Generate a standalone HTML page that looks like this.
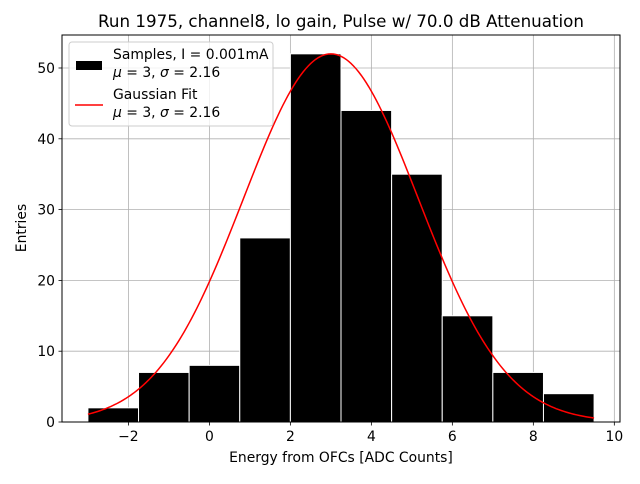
<!DOCTYPE html>
<html><head><meta charset="utf-8"><style>
body{margin:0;background:#fff;font-family:"DejaVu Sans","Liberation Sans",sans-serif;}
svg text{font-family:"DejaVu Sans","Liberation Sans",sans-serif;}
</style></head><body>
<svg id="chart" width="640" height="480" xmlns="http://www.w3.org/2000/svg">
<rect width="640" height="480" fill="#fff"/>
<g id="grid"></g>
<g id="bars"></g>
<path id="fit" fill="none" stroke="#ff0000" stroke-width="1.5"/>
<rect x="62" y="35" width="558" height="387" fill="none" stroke="#000" stroke-width="1"/>
<g id="ticks"></g>
<text x="341" y="27" text-anchor="middle" font-size="16.7">Run 1975, channel8, lo gain, Pulse w/ 70.0 dB Attenuation</text>
<text x="341" y="462" text-anchor="middle" font-size="13.9">Energy from OFCs [ADC Counts]</text>
<text transform="translate(26,228) rotate(-90)" text-anchor="middle" font-size="13.9">Entries</text>
<g>
<rect x="69" y="42" width="204" height="84" rx="3" fill="#fff" fill-opacity="0.8" stroke="#ccc"/>
<rect x="76" y="61" width="26" height="9" fill="#000"/>
<text x="113" y="59" font-size="13.9">Samples, I = 0.001mA</text>
<text x="113" y="77" font-size="13.9"><tspan font-style="italic">μ</tspan> = 3, <tspan font-style="italic">σ</tspan> = 2.16</text>
<line x1="75" y1="105" x2="103" y2="105" stroke="#ff0000" stroke-width="1.5"/>
<text x="113" y="99" font-size="13.9">Gaussian Fit</text>
<text x="113" y="117" font-size="13.9"><tspan font-style="italic">μ</tspan> = 3, <tspan font-style="italic">σ</tspan> = 2.16</text>
</g>
</svg>
<script>
const binEdgeStart = -3;
const binWidth = 1.25;
const counts = [2, 7, 8, 26, 52, 44, 35, 15, 7, 4];
const xTicks = [-2, 0, 2, 4, 6, 8, 10];
const yTicks = [0, 10, 20, 30, 40, 50];
const fitMu = 3, fitSigma = 2.16, fitAmp = 52;
const fitRange = [-3, 9.5];

const NS = "http://www.w3.org/2000/svg";
const X0 = 62, X1 = 620, Y0 = 422, Y1 = 35;
const xMin = -3.64, xMax = 10.14, yMin = 0, yMax = 54.66;
const sx = v => X0 + (v - xMin) / (xMax - xMin) * (X1 - X0);
const sy = v => Y0 - (v - yMin) / (yMax - yMin) * (Y0 - Y1);
function mk(tag, attrs, parent) { const e = document.createElementNS(NS, tag); for (const k in attrs) e.setAttribute(k, attrs[k]); document.getElementById(parent).appendChild(e); return e; }

xTicks.forEach(t => {
  const g = mk('line', {x1: sx(t), x2: sx(t), y1: Y1, y2: Y0, stroke: '#b0b0b0', 'stroke-width': 0.8}, 'grid');
  
  
  const tk = mk('line', {x1: sx(t), x2: sx(t), y1: Y0, y2: Y0 + 3.5, stroke: '#000', 'stroke-width': 0.8}, 'ticks');
  
  
  const tx = mk('text', {x: sx(t), y: Y0 + 19, 'text-anchor': 'middle', 'font-size': 13.9}, 'ticks');
  tx.textContent = t < 0 ? '\u2212' + (-t) : String(t);
  
  
});
yTicks.forEach(t => {
  const g = mk('line', {x1: X0, x2: X1, y1: sy(t), y2: sy(t), stroke: '#b0b0b0', 'stroke-width': 0.8}, 'grid');
  
  
  const tk = mk('line', {x1: X0 - 3.5, x2: X0, y1: sy(t), y2: sy(t), stroke: '#000', 'stroke-width': 0.8}, 'ticks');
  
  
  const tx = mk('text', {x: X0 - 7, y: sy(t) + 5, 'text-anchor': 'end', 'font-size': 13.9}, 'ticks');
  tx.textContent = String(t);
  
  
});
counts.forEach((c, i) => {
  const a = binEdgeStart + i * binWidth, b = a + binWidth;
  const r = mk('rect', {x: sx(a), y: sy(c), width: sx(b) - sx(a), height: sy(0) - sy(c), fill: '#000', stroke: '#fff', 'stroke-width': 1}, 'bars');
  
  
});
let d = '';
for (let i = 0; i <= 200; i++) {
  const x = fitRange[0] + (fitRange[1] - fitRange[0]) * i / 200;
  const y = fitAmp * Math.exp(-((x - fitMu) ** 2) / (2 * fitSigma * fitSigma));
  d += (i ? 'L' : 'M') + sx(x).toFixed(2) + ',' + sy(y).toFixed(2);
}
document.getElementById('fit').setAttribute('d', d);
</script>
</body></html>
